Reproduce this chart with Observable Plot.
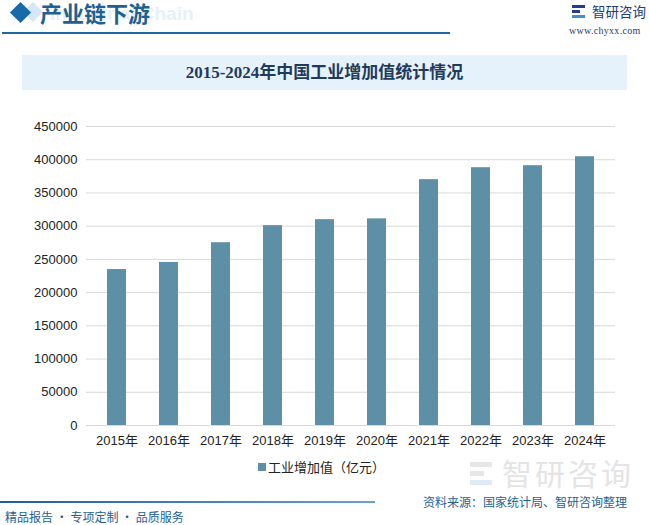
<!DOCTYPE html>
<html><head><meta charset="utf-8">
<script src="https://cdn.jsdelivr.net/npm/d3@7"></script>
<script src="https://cdn.jsdelivr.net/npm/@observablehq/plot@0.6"></script>
<style>
body{margin:0;width:649px;height:525px;overflow:hidden;background:#fff;font-family:"Liberation Sans","Noto Sans CJK SC",sans-serif;}
#wrap{position:relative;width:649px;height:525px;}
.abs{position:absolute;white-space:nowrap;}
</style></head>
<body><div id="wrap">
<div class="abs" style="left:26px;top:5px;width:14px;height:14px;background:#d6e6f2;transform:rotate(45deg);"></div>
<div class="abs" style="left:13px;top:5px;width:15px;height:15px;background:#1b6aa8;transform:rotate(45deg);"></div>
<div class="abs" style="left:50px;top:3px;line-height:22px;font-family:'Liberation Sans',sans-serif;font-weight:bold;font-size:19px;color:#e6f0f8;">Industrial Chain</div>
<div class="abs" style="left:40px;top:1px;line-height:22px;font-family:'Noto Sans CJK SC';font-weight:700;font-size:22px;color:#1f5f92;">产业链下游</div>
<div class="abs" style="left:2px;top:32px;width:448px;height:1.5px;background:#1f6a9c;"></div>
<div class="abs" style="left:572px;top:5px;width:13px;height:14px;">
  <div class="abs" style="left:0;top:0;width:13px;height:3px;background:#233f8c;"></div>
  <div class="abs" style="left:0;top:5px;width:8px;height:3px;background:#233f8c;"></div>
  <div class="abs" style="left:0;top:10px;width:13px;height:3px;background:#3d8fd6;"></div>
</div>
<div class="abs" style="left:592px;top:1px;font-family:'Noto Sans CJK SC';font-size:13.5px;color:#223a7a;">智研咨询</div>
<div class="abs" style="left:569px;top:25px;font-family:'Liberation Serif',serif;font-size:10px;letter-spacing:0.3px;color:#2a3b70;">www.chyxx.com</div>
<div class="abs" style="left:22px;top:55px;width:605px;height:35px;background:#e6f2fb;"></div>
<div class="abs" style="left:22px;top:55px;width:605px;height:35px;line-height:35px;text-align:center;font-family:'Liberation Serif','Noto Sans CJK SC',serif;font-weight:bold;font-size:17px;color:#1f3b5c;">2015-2024年中国工业增加值统计情况</div>
<div class="abs" style="left:502px;top:450px;font-family:'Noto Sans CJK SC';font-size:30px;color:#e4e4e4;letter-spacing:3px;">智研咨询</div>
<div class="abs" style="left:470px;top:462px;width:22px;height:24px;">
  <div class="abs" style="left:0;top:0;width:22px;height:5px;background:#e6e6e6;"></div>
  <div class="abs" style="left:0;top:9px;width:14px;height:5px;background:#e6e6e6;"></div>
  <div class="abs" style="left:0;top:18px;width:22px;height:5px;background:#dfeaf4;"></div>
</div>
<div id="chart" class="abs" style="left:0;top:110px;"></div>
<div class="abs" style="left:258px;top:463px;width:8px;height:8px;background:#5d8fa6;"></div>
<div class="abs" style="left:268px;top:457px;font-family:'Noto Sans CJK SC';font-size:13px;color:#222;">工业增加值（亿元）</div>
<div class="abs" style="left:0;top:501px;width:375px;height:1.5px;background:linear-gradient(to right,#1f5f92,#6aa2c8);"></div>
<div class="abs" style="left:5px;top:508px;font-family:'Noto Sans CJK SC';font-size:12px;color:#1f5f92;">精品报告 · 专项定制 · 品质服务</div>
<div class="abs" style="left:423px;top:493px;font-family:'Noto Sans CJK SC';font-size:12px;color:#1f5f92;">资料来源：国家统计局、智研咨询整理</div>
</div>
<script>
const years = ["2015年","2016年","2017年","2018年","2019年","2020年","2021年","2022年","2023年","2024年"];
const values = [234700,245400,275100,300800,309800,311000,370000,388000,391000,404500];
const yTicks = [0,50000,100000,150000,200000,250000,300000,350000,400000,450000];
const data = years.map((y,i)=>({year:y,value:values[i]}));
const chart = Plot.plot({
  width:649, height:345,
  marginLeft:86, marginRight:34, marginTop:16, marginBottom:30,
  style:{fontFamily:"'Liberation Sans','Noto Sans CJK SC',sans-serif",fontSize:"13px",color:"#222",background:"transparent"},
  x:{domain:years,paddingInner:0.64,paddingOuter:0.32,label:null},
  y:{domain:[0,450000],label:null},
  marks:[
    Plot.gridY(yTicks,{stroke:"#d9d9d9",strokeOpacity:1}),
    Plot.barY(data,{x:"year",y:"value",fill:"#5d8fa6"}),
    Plot.ruleY([0],{stroke:"#d9d9d9"}),
    Plot.axisY({ticks:yTicks,tickSize:0,tickPadding:9,tickFormat:d=>String(d),label:null}),
    Plot.axisX({tickSize:0,tickPadding:10,label:null})
  ]
});
document.getElementById("chart").appendChild(chart);
</script>
</body></html>
